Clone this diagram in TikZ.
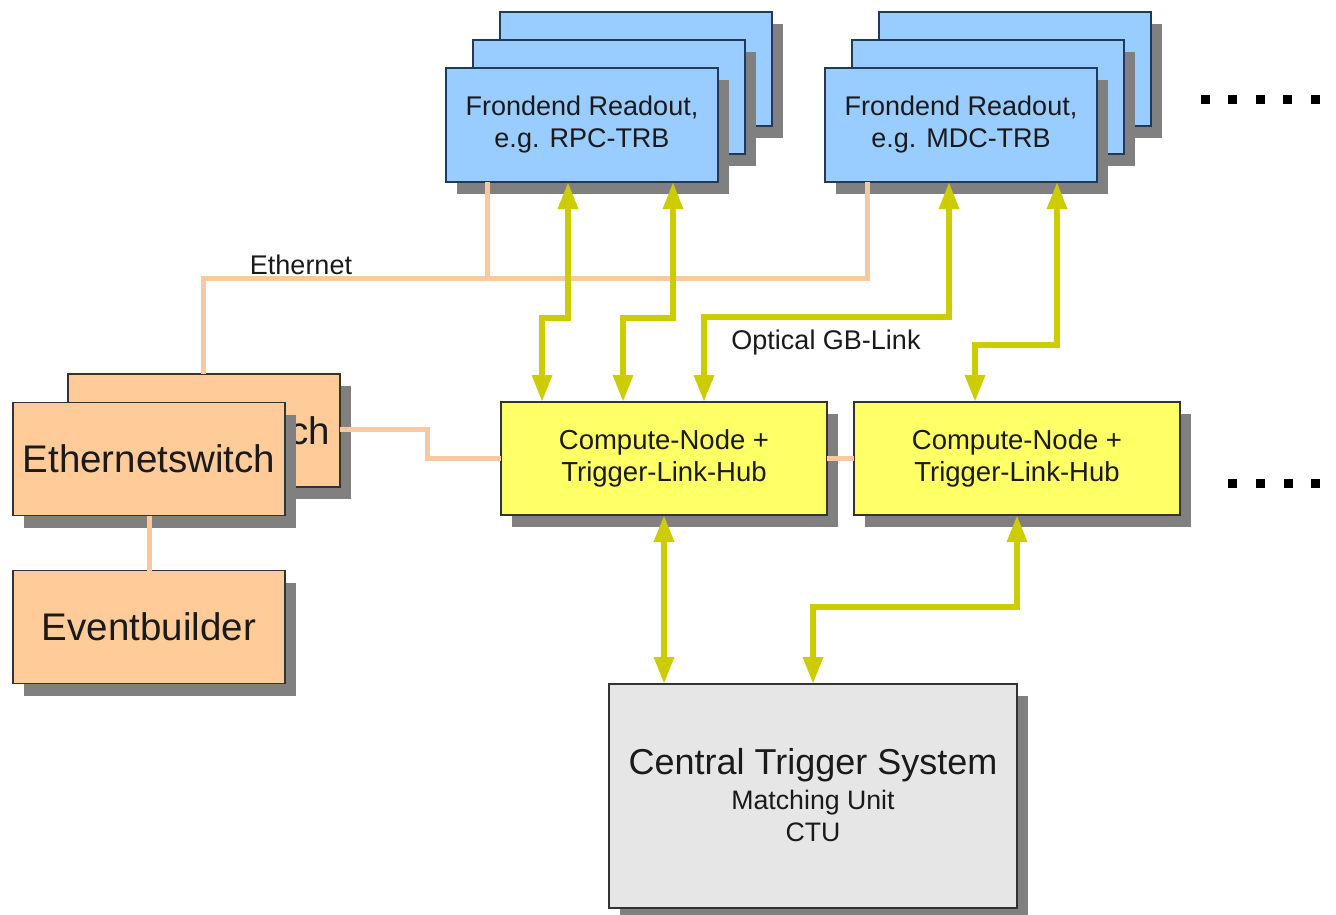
\documentclass[tikz,border=0pt]{standalone}
\usepackage{fontspec}
\setmainfont{Liberation Sans}
\usetikzlibrary{arrows.meta,shadows}
\definecolor{fblue}{HTML}{99CCFF}
\definecolor{bblue}{HTML}{1F3A5A}
\definecolor{forange}{HTML}{FFCC99}
\definecolor{fyellow}{HTML}{FFFF66}
\definecolor{fgray}{HTML}{E6E6E6}
\definecolor{bdark}{HTML}{333333}
\definecolor{shgray}{HTML}{808080}
\definecolor{lyellow}{HTML}{CCCC00}
\definecolor{lorange}{HTML}{F8C9A0}
\definecolor{txt}{HTML}{1A1A1A}
\tikzset{
  basebox/.style={rectangle, line width=1.4pt, inner sep=0pt, outer sep=0pt,
    text=txt, align=center,
    drop shadow={shadow xshift=11pt, shadow yshift=-12pt, fill=shgray, opacity=1}},
  bluebox/.style={basebox, draw=bblue, fill=fblue, minimum width=272pt, minimum height=114pt,
    font=\fontsize{27}{32}\selectfont},
  orangebox/.style={basebox, draw=bdark, fill=forange, minimum width=272pt, minimum height=113pt,
    font=\fontsize{38.5}{44}\selectfont},
  yellowbox/.style={basebox, draw=bdark, fill=fyellow, minimum width=326pt, minimum height=113pt,
    font=\fontsize{27.5}{32}\selectfont},
  graybox/.style={basebox, draw=bdark, fill=fgray, minimum width=408pt, minimum height=224pt},
  lbl/.style={text=txt, inner sep=0pt, font=\fontsize{27}{32}\selectfont},
  dotsq/.style={rectangle, fill=black, minimum size=9pt, inner sep=0pt},
  yarrow/.style={draw=lyellow, line width=6pt,
    {Triangle[width=19pt,length=27pt]}-{Triangle[width=19pt,length=27pt]}},
  oline/.style={draw=lorange, line width=5pt}
}
\begin{document}
\begin{tikzpicture}[x=1pt,y=-1pt]
\useasboundingbox (0,0) rectangle (1336,915);
\fill[white] (0,0) rectangle (1336,915);

% Frontend readout stacks
\node[bluebox] (rpc3) at (636,69) {};
\node[bluebox] (rpc2) at (609,97) {};
\node[bluebox] (rpc) at (582,125) {Frondend Readout,\\e.g. RPC-TRB};
\node[bluebox] (mdc3) at (1015,69) {};
\node[bluebox] (mdc2) at (988,97) {};
\node[bluebox] (mdc) at (961,125) {Frondend Readout,\\e.g. MDC-TRB};

% Ethernet switches and eventbuilder
\node[orangebox] (sw2) at (204,430.5) {};
\node[text=txt, inner sep=0pt, anchor=east, font=\fontsize{38.5}{44}\selectfont] (sw2txt) at (330.5,430.5) {ch};
\node[orangebox] (sw) at (149,459) {Ethernetswitch};
\node[orangebox] (eb) at (149,627) {Eventbuilder};

% Compute nodes
\node[yellowbox] (cn1) at (664,458.5) {Compute-Node +\\Trigger-Link-Hub};
\node[yellowbox] (cn2) at (1017,458.5) {Compute-Node +\\Trigger-Link-Hub};

% Central trigger system
\node[graybox] (cts) at (813,796) {};
\node[text=txt, inner sep=0pt, font=\fontsize{36}{40}\selectfont] (ctsA) at (813,765) {Central Trigger System};
\node[text=txt, inner sep=0pt, align=center, font=\fontsize{26.7}{32}\selectfont] (ctsB) at (813,816) {Matching Unit\\CTU};

% Continuation dots
\foreach \i/\xx in {1/1205,2/1232,3/1260,4/1287,5/1315}
  \node[dotsq] (td\i) at (\xx,100) {};
\foreach \i/\xx in {1/1232,2/1260,3/1288,4/1315}
  \node[dotsq] (bd\i) at (\xx,483) {};

% Ethernet connections
\draw[oline] ([xshift=-1pt]sw2.north) -- ++(0,-96) coordinate (ethL) -| ([xshift=-94pt]mdc.south);
\draw[oline] ([xshift=-95pt]rpc.south) -- ++(0,95) coordinate (ethR);
\draw[oline] ([yshift=1.5pt]sw2.east) -- ++(87,0) |- (cn1.west);
\draw[oline] (cn1.east) -- (cn2.west);
\draw[oline] (sw.south) -- (eb.north);
\node[lbl] (ethlbl) at (301,265) {Ethernet};

% Optical links
\draw[yarrow] ([xshift=-14pt]rpc.south) -- ++(0,136) -| ([xshift=-122pt]cn1.north);
\draw[yarrow] ([xshift=91pt]rpc.south) -- ++(0,136) -| ([xshift=-41pt]cn1.north);
\draw[yarrow] ([xshift=-12pt]mdc.south) -- ++(0,135) -| ([xshift=40pt]cn1.north);
\draw[yarrow] ([xshift=96pt]mdc.south) -- ++(0,163) -| ([xshift=-42pt]cn2.north);
\draw[yarrow] (cn1.south) -- ([xshift=-149pt]cts.north);
\draw[yarrow] (cn2.south) -- ++(0,92) -| (cts.north);
\node[lbl] (optlbl) at (826,343) {Optical GB-Link};
\end{tikzpicture}
\end{document}
